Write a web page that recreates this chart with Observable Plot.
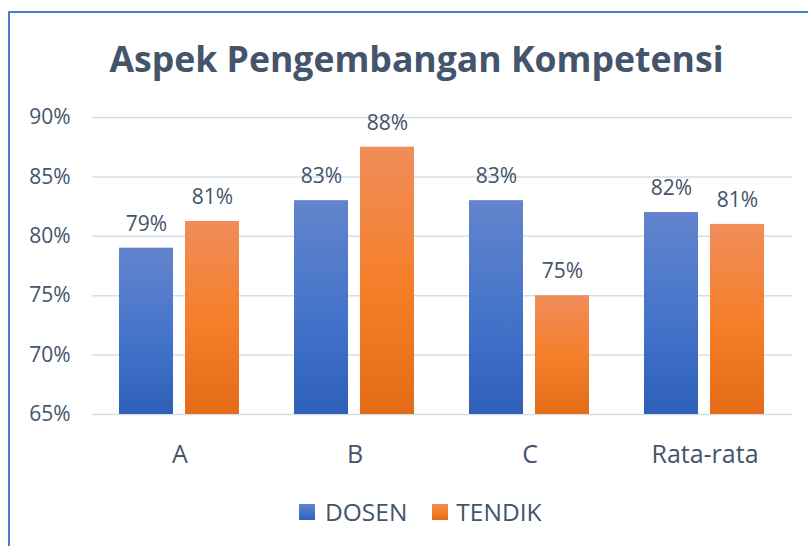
<!DOCTYPE html>
<html>
<head>
<meta charset="utf-8">
<script src="https://cdn.jsdelivr.net/npm/d3@7"></script>
<script src="https://cdn.jsdelivr.net/npm/@observablehq/plot@0.6"></script>
<style>
  html, body { margin: 0; padding: 0; background: #fff; width: 808px; height: 546px; overflow: hidden; }
  #frame { position: absolute; left: 8px; top: 11px; width: 900px; height: 600px; border: 2px solid #4A7CD0; box-sizing: border-box; }
  #title { position: absolute; left: 0; width: 833px; top: 34px; text-align: center; font-family: "Open Sans", sans-serif; font-weight: 700; font-size: 35.6px; color: #44546A; line-height: normal; }
  #chart { position: absolute; left: 0; top: 0; }
  #legend { position: absolute; left: 299px; top: 500px; height: 24px; display: flex; align-items: center; font-family: "Open Sans", sans-serif; font-size: 24.5px; line-height: 1; color: #44546A; }
  .sw { width: 16px; height: 16px; display: inline-block; }
</style>
</head>
<body>
<svg width="0" height="0" style="position:absolute">
  <defs>
    <linearGradient id="gBlue" x1="0" y1="0" x2="0" y2="1">
      <stop offset="0" stop-color="#6384CC"/>
      <stop offset="0.5" stop-color="#4675CB"/>
      <stop offset="1" stop-color="#2E60B9"/>
    </linearGradient>
    <linearGradient id="gOrange" x1="0" y1="0" x2="0" y2="1">
      <stop offset="0" stop-color="#F08D5A"/>
      <stop offset="0.5" stop-color="#F57F2B"/>
      <stop offset="1" stop-color="#E46C19"/>
    </linearGradient>
  </defs>
</svg>
<div id="frame"></div>
<div id="title">Aspek Pengembangan Kompetensi</div>
<div id="chart"></div>
<div id="legend"></div>
<script>
const categories = ["A", "B", "C", "Rata-rata"];
const series = ["DOSEN", "TENDIK"];
const dosen = [79, 83, 83, 82];
const tendik = [81.25, 87.5, 75, 81];
const dosenLabels = ["79%", "83%", "83%", "82%"];
const tendikLabels = ["81%", "88%", "75%", "81%"];
const yTicks = [65, 70, 75, 80, 85, 90];
const seriesFills = {DOSEN: "url(#gBlue)", TENDIK: "url(#gOrange)"};
const swatchCss = {DOSEN: "linear-gradient(#6384CC,#4675CB,#2E60B9)", TENDIK: "linear-gradient(#F08D5A,#F57F2B,#E46C19)"};

const rows = [];
categories.forEach((c, i) => {
  rows.push({category: c, series: "DOSEN", value: dosen[i], label: dosenLabels[i]});
  rows.push({category: c, series: "TENDIK", value: tendik[i], label: tendikLabels[i]});
});
const dRows = rows.filter(d => d.series === "DOSEN");
const tRows = rows.filter(d => d.series === "TENDIK");

const chart = Plot.plot({
  width: 808,
  height: 470,
  marginTop: 117,
  marginBottom: 56,
  marginLeft: 91,
  marginRight: 15,
  style: {fontFamily: "Open Sans, sans-serif", color: "#44546A", background: "transparent"},
  fx: {domain: categories, padding: 0},
  x: {domain: series, paddingInner: 0.179, paddingOuter: 0.399, axis: null},
  y: {domain: [65, 90]},
  marks: [
    Plot.gridY(yTicks, {stroke: "#D9DDE3", strokeOpacity: 1, strokeWidth: 1.5}),
    Plot.barY(dRows, {fx: "category", x: "series", y1: 65, y2: "value", fill: seriesFills.DOSEN}),
    Plot.barY(tRows, {fx: "category", x: "series", y1: 65, y2: "value", fill: seriesFills.TENDIK}),
    Plot.text(rows, {fx: "category", x: "series", y: "value", text: "label", dy: -24, fontSize: 21, fill: "#44546A"}),
    Plot.axisY(yTicks, {tickSize: 0, tickPadding: 22, tickFormat: d => d + "%", fontSize: 21, label: null}),
    Plot.axisFx({anchor: "bottom", tickSize: 0, tickPadding: 31, fontSize: 25, label: null})
  ]
});
document.getElementById("chart").appendChild(chart);

const legend = document.getElementById("legend");
series.forEach((s, i) => {
  const sw = document.createElement("span");
  sw.className = "sw";
  sw.style.background = swatchCss[s];
  sw.style.marginLeft = i === 0 ? "0px" : "25px";
  const t = document.createElement("span");
  t.textContent = s;
  t.style.marginLeft = i === 0 ? "10px" : "8px";
  legend.appendChild(sw);
  legend.appendChild(t);
});
</script>
</body>
</html>
